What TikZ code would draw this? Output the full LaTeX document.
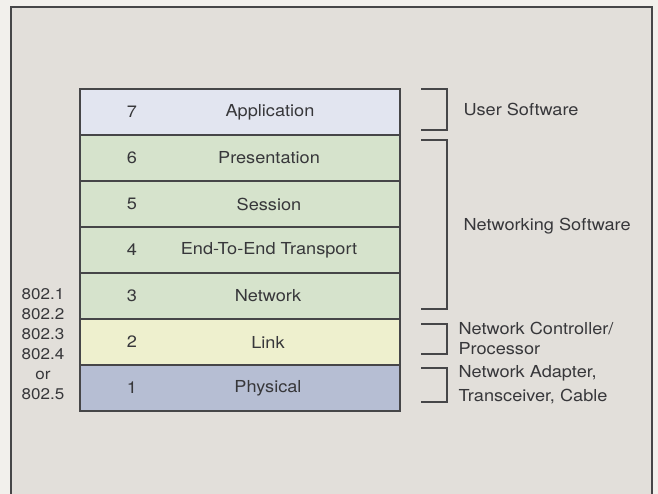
\documentclass[tikz,border=0pt]{standalone}
\usepackage{fontspec}
\setmainfont{TeX Gyre Heros}[FakeStretch=1.1]
\definecolor{outside}{RGB}{242,240,236}
\definecolor{panel}{RGB}{226,223,218}
\definecolor{frameline}{RGB}{70,70,72}
\definecolor{txt}{RGB}{55,55,58}
\definecolor{appc}{RGB}{226,229,240}
\definecolor{greenc}{RGB}{214,227,204}
\definecolor{linkc}{RGB}{238,240,206}
\definecolor{physc}{RGB}{182,190,211}
\tikzset{
  layer/.style={draw=frameline, line width=1.2pt, minimum width=320pt, minimum height=46pt, inner sep=0pt},
  num/.style={text=txt, font=\fontsize{16.5}{18}\selectfont},
  lbl/.style={text=txt, font=\fontsize{16.5}{18}\selectfont},
  side/.style={text=txt, font=\fontsize{16.5}{18}\selectfont, anchor=west, align=left},
  std/.style={text=txt, font=\fontsize{15.5}{20}\selectfont, align=center},
  brk/.style={draw=frameline, line width=1.1pt},
}
\begin{document}
\begin{tikzpicture}[x=1pt,y=-1pt]
\fill[outside] (0,0) rectangle (658,494);
\useasboundingbox (0,0) rectangle (658,494);
\fill[panel] (11,7) rectangle (652,500);
\draw[frameline, line width=1.6pt] (11,500) -- (11,7) -- (652,7) -- (652,500);
% layers
\node[layer, fill=appc]   (l7) at (240,112) {};
\node[layer, fill=greenc] (l6) at (240,158) {};
\node[layer, fill=greenc] (l5) at (240,204) {};
\node[layer, fill=greenc] (l4) at (240,250) {};
\node[layer, fill=greenc] (l3) at (240,296) {};
\node[layer, fill=linkc]  (l2) at (240,342) {};
\node[layer, fill=physc]  (l1) at (240,388) {};
% numbers
\node[num] (n7) at (132,112) {7};
\node[num] (n6) at (132,158) {6};
\node[num] (n5) at (132,204) {5};
\node[num] (n4) at (132,250) {4};
\node[num] (n3) at (132,296) {3};
\node[num] (n2) at (132,342) {2};
\node[num] (n1) at (132,388) {1};
% names
\node[lbl] (t7) at (270,112) {Application};
\node[lbl] (t6) at (269,158) {Presentation};
\node[lbl] (t5) at (269,204) {Session};
\node[lbl] (t4) at (269,250) {End-To-End Transport};
\node[lbl] (t3) at (268,296) {Network};
\node[lbl] (t2) at (268,342) {Link};
\node[lbl] (t1) at (268,388) {Physical};
% standards
\node[std] (std) at (43,344) {802.1\\802.2\\802.3\\802.4\\or\\802.5};
% brackets
\draw[brk] (421,89) -- (447,89) -- (447,130) -- (421,130);
\draw[brk] (421,140) -- (447,140) -- (447,309) -- (421,309);
\draw[brk] (421,324) -- (447,324) -- (447,354) -- (421,354);
\draw[brk] (421,368) -- (447,368) -- (447,402) -- (421,402);
% side labels
\node[side] (s1) at (460,109) {User Software};
\node[side] (s2) at (460,226) {Networking Software};
\node[side, font=\fontsize{16.5}{20}\selectfont] (s3) at (455,338) {Network Controller/\\Processor};
\node[side, font=\fontsize{16.5}{24}\selectfont] (s4) at (455,385) {Network Adapter,\\Transceiver, Cable};
\end{tikzpicture}
\end{document}
